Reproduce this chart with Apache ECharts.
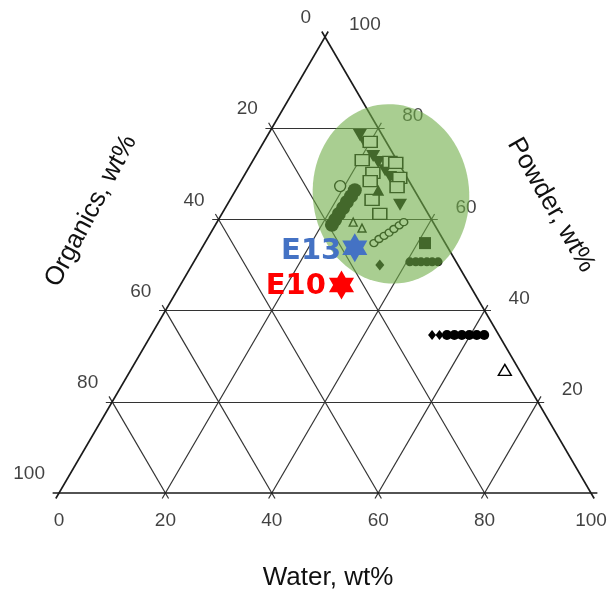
<!DOCTYPE html>
<html><head><meta charset="utf-8">
<script src="https://cdn.jsdelivr.net/npm/echarts@6/dist/echarts.min.js"></script>
<style>html,body{margin:0;padding:0;background:#fff}#c{width:611px;height:594px}</style>
</head><body><div id="c"></div>
<script>
// ---- data (ternary: [Water, Organics, Powder] in wt%) ----
const waterTicks = [0, 20, 40, 60, 80, 100];
const organicsTicks = [0, 20, 40, 60, 80, 100];
const powderTicks = [20, 40, 60, 80, 100];
const gridLevels = [0, 20, 40, 60, 80];

const downTriangles = [[17.3,4.2,78.5],[19.1,4.1,76.8],[22.1,4.0,73.9],[23.7,3.7,72.6],[25.9,3.3,70.8],[27.6,3.1,69.3],[32.5,4.3,63.2]];
const openSquares = [[20.0,3.0,77.0],[20.5,6.5,73.0],[25.9,1.5,72.6],[27.1,0.5,72.4],[23.9,5.9,70.2],[29.5,1.4,69.1],[24.3,7.3,68.4],[26.7,9.0,64.3],[29.7,9.1,61.2],[30.0,2.9,67.1]];
const upTriangles = [[26.8,6.8,66.4]];
const filledBar = [[22.4,11.2,66.4],[22.35,12.55,65.1],[22.2,14.0,63.8],[22.15,15.35,62.5],[22.0,16.8,61.2],[21.95,18.15,59.9],[21.9,19.3,58.8]];
const openCircles = [[19.2,13.5,67.3]];
const smallOpen = [[25.6,15.0,59.4],[27.9,14.0,58.1]];
const circleChain = [[31.8,13.4,54.8],[32.3,12.0,55.7],[32.9,10.7,56.4],[33.5,9.4,57.1],[34.0,8.1,57.9],[34.6,6.7,58.7],[35.1,5.5,59.4]];
const filledDiamonds = [[35.3,14.7,50.0]];
const filledSquares = [[41.4,3.8,54.8]];
const ovalRow = [[40.6,8.7,50.7],[41.7,7.6,50.7],[42.7,6.6,50.7],[43.8,5.5,50.7],[44.8,4.5,50.7],[45.9,3.4,50.7]];
const blackDiamonds = [[52.8,12.55,34.65],[54.2,11.15,34.65]];
const blackCircles = [[55.6,9.75,34.65],[57.0,8.35,34.65],[58.4,6.95,34.65],[59.8,5.55,34.65],[61.2,4.15,34.65],[62.6,2.75,34.65]];
const openTriangles = [[70.3,2.7,27.0]];
const e13 = [28.7,17.5,53.8];
const e10 = [30.3,24.1,45.6];
const highlightCenter = [29.6,4.8,65.6];
const highlightRadii = [14.7,19.7];

// ---- helpers ----
function toXY(t){ return [t[0] + t[2]/2, t[2]]; }
function pts(arr){ return arr.map(toXY); }
const EXT = 1.2;
function seg(a,b){ return {coords:[toXY(a), toXY(b)]}; }
const edgeSegs = [], innerSegs = [];
gridLevels.forEach(k=>{
  const target = k === 0 ? edgeSegs : innerSegs;
  target.push(seg([-EXT, 100-k+EXT, k],[100-k+EXT, -EXT, k]));   // constant powder
  target.push(seg([k, 100-k+EXT, -EXT],[k, -EXT, 100-k+EXT]));   // constant water
  target.push(seg([100-k+EXT, k, -EXT],[-EXT, k, 100-k+EXT]));   // constant organics
});

const tickFont = {fontFamily:'Liberation Sans, Arial', fontSize:19, color:'#111'};
function labelSeries(items, labelOpt){
  return {type:'scatter', symbolSize:1, itemStyle:{color:'transparent'}, z:2, clip:false, silent:true,
    data: items.map(it=>({value: toXY(it.t), label: Object.assign({show:true, formatter: String(it.v)}, tickFont, labelOpt)}))};
}
function markers(data, opt){
  const s = Object.assign({type:'scatter', data: pts(data), z:3, clip:false, silent:true}, opt);
  s.itemStyle = Object.assign({opacity:1}, s.itemStyle);
  return s;
}
const hexStar = 'path://M0,-10L2.887,-5L8.66,-5L5.774,0L8.66,5L2.887,5L0,10L-2.887,5L-8.66,5L-5.774,0L-8.66,-5L-2.887,-5Z';
const openStyle = {color:'#fff', borderColor:'#000', borderWidth:1.4};

const chart = echarts.init(document.getElementById('c'), null, {renderer:'canvas'});
chart.setOption({
  animation:false,
  backgroundColor:'#fff',
  grid:{left:59, top:37, width:532, height:456},
  xAxis:{type:'value', min:0, max:100, show:false},
  yAxis:{type:'value', min:0, max:100, show:false},
  graphic:[
    {type:'text', x:328, y:578, style:{text:'Water, wt%', font:'26px "Liberation Sans", Arial', fill:'#111', textAlign:'center', textVerticalAlign:'middle', verticalAlign:'middle'}},
    {type:'text', x:91, y:211, rotation:62*Math.PI/180, style:{text:'Organics, wt%', font:'26px "Liberation Sans", Arial', fill:'#111', textAlign:'center', textVerticalAlign:'middle', verticalAlign:'middle'}},
    {type:'text', x:551, y:205, rotation:-60*Math.PI/180, style:{text:'Powder, wt%', font:'26px "Liberation Sans", Arial', fill:'#111', textAlign:'center', textVerticalAlign:'middle', verticalAlign:'middle'}}
  ],
  series:[
    {type:'lines', coordinateSystem:'cartesian2d', clip:false, z:1, silent:true, data: innerSegs, lineStyle:{color:'#333', width:1.2, opacity:1}},
    {type:'lines', coordinateSystem:'cartesian2d', clip:false, z:1, silent:true, data: edgeSegs, lineStyle:{color:'#1a1a1a', width:1.6, opacity:1}},
    labelSeries(waterTicks.map(v=>({t:[v,100-v,0], v})), {position:'inside', align:'center', verticalAlign:'middle', offset:[0,28]}),
    labelSeries(organicsTicks.map(v=>({t:[0,v,100-v], v})), {position:'inside', align:'right', verticalAlign:'middle', offset:[-14,-19]}),
    labelSeries(powderTicks.map(v=>({t:[100-v,0,v], v})), {position:'inside', align:'left', verticalAlign:'middle', offset:[24,-12]}),
    markers(downTriangles, {symbol:'triangle', symbolRotate:180, symbolSize:[14,12], itemStyle:{color:'#000'}}),
    markers(openSquares, {symbol:'rect', symbolSize:[14,11], itemStyle:openStyle}),
    markers(upTriangles, {symbol:'triangle', symbolSize:[12,11], itemStyle:{color:'#000'}}),
    markers(filledBar, {symbol:'circle', symbolSize:14, itemStyle:{color:'#000'}}),
    markers(openCircles, {symbol:'circle', symbolSize:11, itemStyle:openStyle}),
    markers(smallOpen, {symbol:'triangle', symbolSize:8, itemStyle:openStyle}),
    markers(circleChain, {symbol:'circle', symbolSize:[8,7], itemStyle:openStyle}),
    markers(filledDiamonds, {symbol:'diamond', symbolSize:[9,11], itemStyle:{color:'#000'}}),
    markers(filledSquares, {symbol:'rect', symbolSize:12, itemStyle:{color:'#000'}}),
    markers(ovalRow, {symbol:'circle', symbolSize:[9,9], itemStyle:{color:'#000'}}),
    markers(blackDiamonds, {symbol:'diamond', symbolSize:[8,10], itemStyle:{color:'#000'}}),
    markers(blackCircles, {symbol:'circle', symbolSize:10, itemStyle:{color:'#000'}}),
    markers(openTriangles, {symbol:'triangle', symbolSize:[13,11], itemStyle:openStyle}),
    {type:'custom', coordinateSystem:'cartesian2d', z:5, silent:true,
      data:[[toXY(highlightCenter)[0], toXY(highlightCenter)[1], highlightRadii[0], highlightRadii[1]]],
      renderItem:function(params, api){
        const c = api.coord([api.value(0), api.value(1)]);
        const s = api.size([api.value(2), api.value(3)]);
        const th = -0.09, p = [];
        for (let i=0;i<96;i++){
          const t = i/96*2*Math.PI;
          const ex = s[0]*Math.cos(t), ey = s[1]*Math.sin(t);
          p.push([c[0] + ex*Math.cos(th) - ey*Math.sin(th), c[1] + ex*Math.sin(th) + ey*Math.cos(th)]);
        }
        return {type:'polygon', shape:{points:p}, style:{fill:'rgba(112,173,71,0.6)'}};
      }},
    {type:'scatter', z:8, clip:false, silent:true, symbol:hexStar, symbolKeepAspect:true, symbolSize:29,
      data:[
        {value: toXY(e13), itemStyle:{color:'#4472c4', opacity:1}, label:{show:true, formatter:'E13', position:'left', distance:1, color:'#4472c4', fontSize:29, fontWeight:'bold', fontFamily:'DejaVu Sans', offset:[0,4]}},
        {value: toXY(e10), itemStyle:{color:'#ff0000', opacity:1}, label:{show:true, formatter:'E10', position:'left', distance:3, color:'#ff0000', fontSize:29, fontWeight:'bold', fontFamily:'DejaVu Sans', offset:[0,1]}}
      ]}
  ]
});
</script></body></html>
